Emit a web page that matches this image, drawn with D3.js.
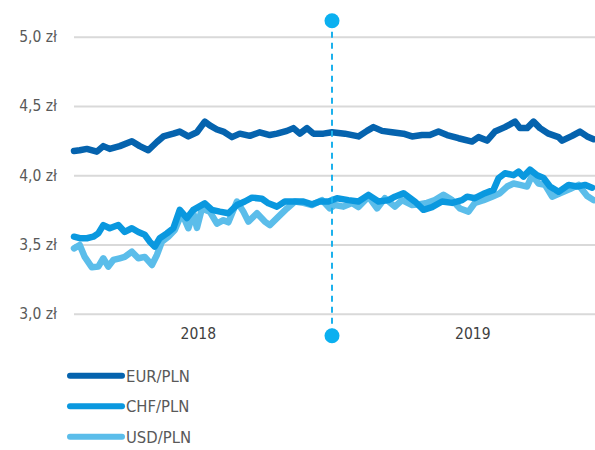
<!DOCTYPE html>
<html>
<head>
<meta charset="utf-8">
<script src="https://cdn.jsdelivr.net/npm/d3@7"></script>
<style>
  body { margin: 0; background: #fff; }
  text { font-family: "Liberation Sans Narrow", "DejaVu Sans Condensed", sans-serif; fill: #595959; }
</style>
</head>
<body>
<div id="chart"></div>
<script>
// weekly positions (weeks since 2018-01-01) and rates
var eurWeeks = [0,1.2,2.6,4.6,5.8,7.2,9.2,11.6,13.2,14.8,16.6,17.8,19.8,21.2,22.8,24.6,26.2,27.2,28.6,29.8,31.6,33.2,35.2,37.2,39.2,40.6,42.6,43.8,45.2,46.6,47.8,49.8,51.6,54.2,56.8,58.6,59.8,61.6,63.6,65.8,67.6,69.6,71.2,72.8,74.6,76.8,79.6,80.8,82.6,84.2,86.2,88.2,89.2,90.6,91.8,93.2,94.8,96.8,97.6,99.6,101.2,102.6,103.8];
var eurVals  = [4.175,4.18,4.19,4.17,4.21,4.19,4.21,4.245,4.21,4.18,4.24,4.28,4.30,4.315,4.28,4.31,4.387,4.36,4.33,4.315,4.275,4.30,4.284,4.31,4.29,4.30,4.32,4.34,4.30,4.34,4.30,4.30,4.31,4.30,4.28,4.32,4.347,4.32,4.31,4.30,4.28,4.29,4.29,4.315,4.29,4.267,4.243,4.275,4.25,4.315,4.347,4.387,4.34,4.34,4.387,4.34,4.30,4.275,4.25,4.284,4.315,4.28,4.26];

var chfWeeks = [0,1.2,2.6,3.8,4.8,5.8,7.2,8.8,10.2,11.6,12.8,14.2,15.2,16.2,17.2,18.6,19.8,21.2,22.6,23.8,26.2,27.6,29.2,30.8,32.6,34.2,35.6,37.6,38.8,40.6,42.2,44.2,45.8,47.6,49.2,50.8,52.6,54.8,56.8,58.8,60.8,62.8,64.2,65.8,68.2,69.8,71.6,73.6,75.6,77.6,78.6,80.2,82.2,83.8,84.8,86.2,87.8,88.8,89.8,91.2,92.6,93.8,95.2,96.8,98.8,100.6,102.2,103.6];
var chfVals  = [3.556,3.545,3.545,3.556,3.58,3.64,3.617,3.64,3.59,3.617,3.59,3.57,3.52,3.484,3.545,3.58,3.617,3.75,3.69,3.75,3.797,3.75,3.737,3.725,3.785,3.81,3.838,3.83,3.797,3.773,3.81,3.81,3.81,3.79,3.81,3.81,3.834,3.82,3.81,3.858,3.81,3.82,3.845,3.87,3.81,3.75,3.77,3.81,3.80,3.82,3.845,3.834,3.87,3.894,3.978,4.014,4.0,4.026,3.99,4.04,4.0,3.98,3.918,3.88,3.93,3.918,3.93,3.91];

var usdWeeks = [0,1.2,2.2,3.6,4.8,5.8,6.8,7.8,9.2,10.2,11.6,12.8,14.2,15.6,16.6,17.6,18.8,20.2,21.6,22.8,23.8,24.6,25.6,27.2,28.6,29.8,30.8,32.6,33.8,34.8,36.6,38.2,39.2,40.6,42.6,44.2,45.8,47.6,49.6,51.2,52.2,53.8,55.6,56.8,58.8,60.6,62.2,64.2,65.6,67.6,69.2,70.6,72.2,73.8,75.6,77.2,78.8,80.2,81.8,83.6,85.2,86.6,87.8,89.2,90.6,91.6,92.8,94.2,95.6,97.2,99.2,100.8,102.6,103.8];
var usdVals  = [3.472,3.496,3.41,3.335,3.34,3.40,3.34,3.388,3.40,3.41,3.448,3.40,3.41,3.352,3.424,3.52,3.556,3.605,3.725,3.617,3.725,3.62,3.76,3.737,3.65,3.675,3.66,3.81,3.737,3.665,3.725,3.665,3.64,3.69,3.76,3.81,3.80,3.785,3.82,3.76,3.785,3.773,3.80,3.77,3.845,3.76,3.834,3.773,3.82,3.785,3.79,3.80,3.82,3.858,3.82,3.76,3.737,3.80,3.82,3.845,3.87,3.918,3.94,3.93,3.918,4.0,3.94,3.93,3.845,3.87,3.90,3.93,3.85,3.82];

var seriesNames = ["EUR/PLN", "CHF/PLN", "USD/PLN"];
var seriesColors = ["#0563ae", "#0a98df", "#5bbdea"];
var yTicks = [3.0, 3.5, 4.0, 4.5, 5.0];
var yearLabels = ["2018", "2019"];
var yearLabelDates = ["2018-06-24", "2019-07-13"];
var markerDate = "2018-12-28";

var margin = {top: 36.7, right: 0, bottom: 136.3, left: 74},
    width = 595 - margin.left - margin.right,
    height = 450 - margin.top - margin.bottom;

var start = new Date(2018, 0, 1);
function weekDate(w) { return d3.timeDay.offset(start, Math.round(w * 7)); }
var parse = d3.timeParse("%Y-%m-%d");

var svg = d3.select("#chart")
  .append("svg")
    .attr("width", 595)
    .attr("height", 450)
  .append("g")
    .attr("transform", "translate(" + margin.left + "," + margin.top + ")");

var x = d3.scaleTime()
  .domain([start, weekDate(104.2)])
  .range([0, width]);

var y = d3.scaleLinear()
  .domain([3, 5])
  .range([height, 0]);

// gridlines + y labels
var yAxis = svg.append("g")
  .call(d3.axisLeft(y).tickValues(yTicks).tickSize(-width).tickPadding(17)
    .tickFormat(function(d) { return d3.format(".1f")(d).replace(".", ",") + " zł"; }));
yAxis.select(".domain").remove();
yAxis.selectAll(".tick line").attr("stroke", "#d9d9d9").attr("stroke-width", 2);
yAxis.selectAll(".tick text").style("font-size", "15.5px").style("fill", "#595959");

// year labels
svg.selectAll(".year")
  .data(yearLabels)
  .enter()
  .append("text")
    .attr("x", function(d, i) { return x(parse(yearLabelDates[i])); })
    .attr("y", height + 25)
    .attr("text-anchor", "middle")
    .style("font-size", "15.5px")
    .style("fill", "#404040")
    .text(function(d) { return d; });

// lines
var allSeries = [
  eurWeeks.map(function(w, i) { return {date: weekDate(w), value: eurVals[i]}; }),
  chfWeeks.map(function(w, i) { return {date: weekDate(w), value: chfVals[i]}; }),
  usdWeeks.map(function(w, i) { return {date: weekDate(w), value: usdVals[i]}; })
];

var line = d3.line()
  .x(function(d) { return x(d.date); })
  .y(function(d) { return y(d.value); });

// draw USD first, then CHF, then EUR on top
[2, 1, 0].forEach(function(k) {
  svg.append("path")
    .datum(allSeries[k])
    .attr("fill", "none")
    .attr("stroke", seriesColors[k])
    .attr("stroke-width", 6.5)
    .attr("stroke-linejoin", "round")
    .attr("stroke-linecap", "round")
    .attr("d", line);
});

// marker: dashed line with dots
var mx = x(parse(markerDate));
svg.append("line")
  .attr("x1", mx).attr("x2", mx)
  .attr("y1", -16).attr("y2", height + 22)
  .attr("stroke", "#1cb1ec")
  .attr("stroke-width", 2)
  .attr("stroke-dasharray", "6,5");
svg.selectAll(".dot")
  .data([-16, height + 22])
  .enter()
  .append("circle")
    .attr("cx", mx)
    .attr("cy", function(d) { return d; })
    .attr("r", 7.5)
    .attr("fill", "#0bb0f0");

// legend
var legend = svg.append("g")
  .attr("transform", "translate(" + (-4) + "," + (height + 62) + ")");
seriesNames.forEach(function(name, i) {
  legend.append("line")
    .attr("x1", 0).attr("x2", 52)
    .attr("y1", i * 30.5).attr("y2", i * 30.5)
    .attr("stroke", seriesColors[i])
    .attr("stroke-width", 6)
    .attr("stroke-linecap", "round");
  legend.append("text")
    .attr("x", 56)
    .attr("y", i * 30.5 + 6)
    .style("font-size", "16.5px")
    .text(name);
});
</script>
</body>
</html>
